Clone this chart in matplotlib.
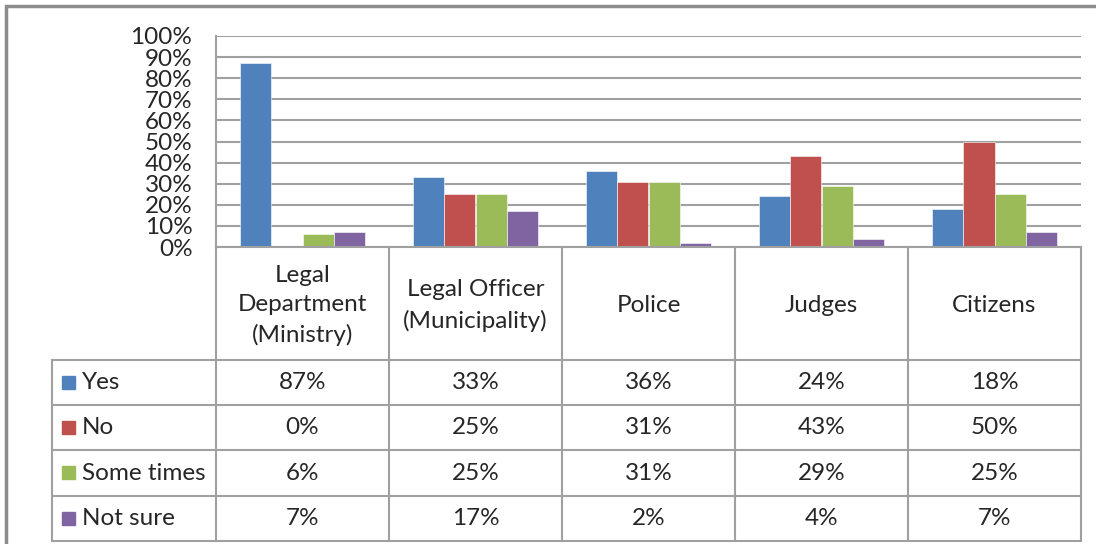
import matplotlib.pyplot as plt
import numpy as np

categories = ["Legal\nDepartment\n(Ministry)", "Legal Officer\n(Municipality)",
              "Police", "Judges", "Citizens"]
series = ["Yes", "No", "Some times", "Not sure"]
yes = [87, 33, 36, 24, 18]
no = [0, 25, 31, 43, 50]
sometimes = [6, 25, 31, 29, 25]
notsure = [7, 17, 2, 4, 7]
values = [yes, no, sometimes, notsure]
colors = ["#4F81BD", "#C0504D", "#9BBB59", "#8064A2"]

plt.rcParams["font.family"] = ["Lato", "DejaVu Sans"]
W, H = 1096, 544
fig = plt.figure(figsize=(W / 100, H / 100), dpi=100)

grid_col = "#A0A0A0"
text_col = "#262626"
fs = 17.5

# layout in pixels (top-left origin)
px_left, px_right = 216, 1081
px_top, px_zero = 36, 247
leg_left = 52
row_edges = [247, 360, 405, 450, 496, 541]


def fx(x):
    return x / W


def fy(y):
    return 1 - y / H


ax = fig.add_axes([fx(px_left), fy(px_zero), fx(px_right - px_left),
                   (px_zero - px_top) / H])
n = len(categories)
x = np.arange(n)
bw = 1 / (len(series) + 1.5)
for i, (vals, c) in enumerate(zip(values, colors)):
    ax.bar(x + (i - 1.5) * bw, vals, width=bw, color=c, edgecolor="white",
           linewidth=0.4, zorder=3)
ax.set_xlim(-0.5, n - 0.5)
ax.set_ylim(0, 100)
ax.set_yticks(np.arange(0, 101, 10))
ax.set_yticklabels([f"{v}%" for v in range(0, 101, 10)], fontsize=fs,
                   color=text_col)
ax.tick_params(axis="y", length=0, pad=17)
ax.set_xticks([])
ax.yaxis.grid(True, color=grid_col, linewidth=1.5, zorder=0)
for s in ["right", "bottom", "top"]:
    ax.spines[s].set_visible(False)
ax.spines["left"].set_color(grid_col)
ax.spines["left"].set_linewidth(1.5)
ax.set_facecolor("none")

# data table below the plot
tab = fig.add_axes([0, 0, 1, 1], facecolor="none")
tab.set_xlim(0, W)
tab.set_ylim(H, 0)
tab.axis("off")
col_w = (px_right - px_left) / n
col_edges = [px_left + k * col_w for k in range(n + 1)]
lw = 1.5
tab.plot([px_left, px_right], [row_edges[0]] * 2, color=grid_col, lw=lw)
for r in row_edges[1:]:
    tab.plot([leg_left, px_right], [r, r], color=grid_col, lw=lw)
tab.plot([leg_left, leg_left], [row_edges[1], row_edges[-1]], color=grid_col, lw=lw)
for c in col_edges:
    tab.plot([c, c], [row_edges[0], row_edges[-1]], color=grid_col, lw=lw)

for j, cat in enumerate(categories):
    cx = (col_edges[j] + col_edges[j + 1]) / 2
    tab.text(cx, (row_edges[0] + row_edges[1]) / 2 + 2, cat, ha="center",
             va="center", fontsize=fs, color=text_col, linespacing=1.5)
for i, (name, vals, c) in enumerate(zip(series, values, colors)):
    cy = (row_edges[i + 1] + row_edges[i + 2]) / 2
    tab.add_patch(plt.Rectangle((62, cy - 7), 13, 13, color=c))
    tab.text(82, cy, name, ha="left", va="center", fontsize=fs, color=text_col)
    for j, v in enumerate(vals):
        cx = (col_edges[j] + col_edges[j + 1]) / 2
        tab.text(cx, cy, f"{v}%", ha="center", va="center", fontsize=fs,
                 color=text_col)

# outer chart frame
tab.plot([6, 6, W], [H, 6, 6], color="#8C8C8C", lw=2.5, solid_joinstyle="miter")

fig.savefig("out.png", dpi=100)
